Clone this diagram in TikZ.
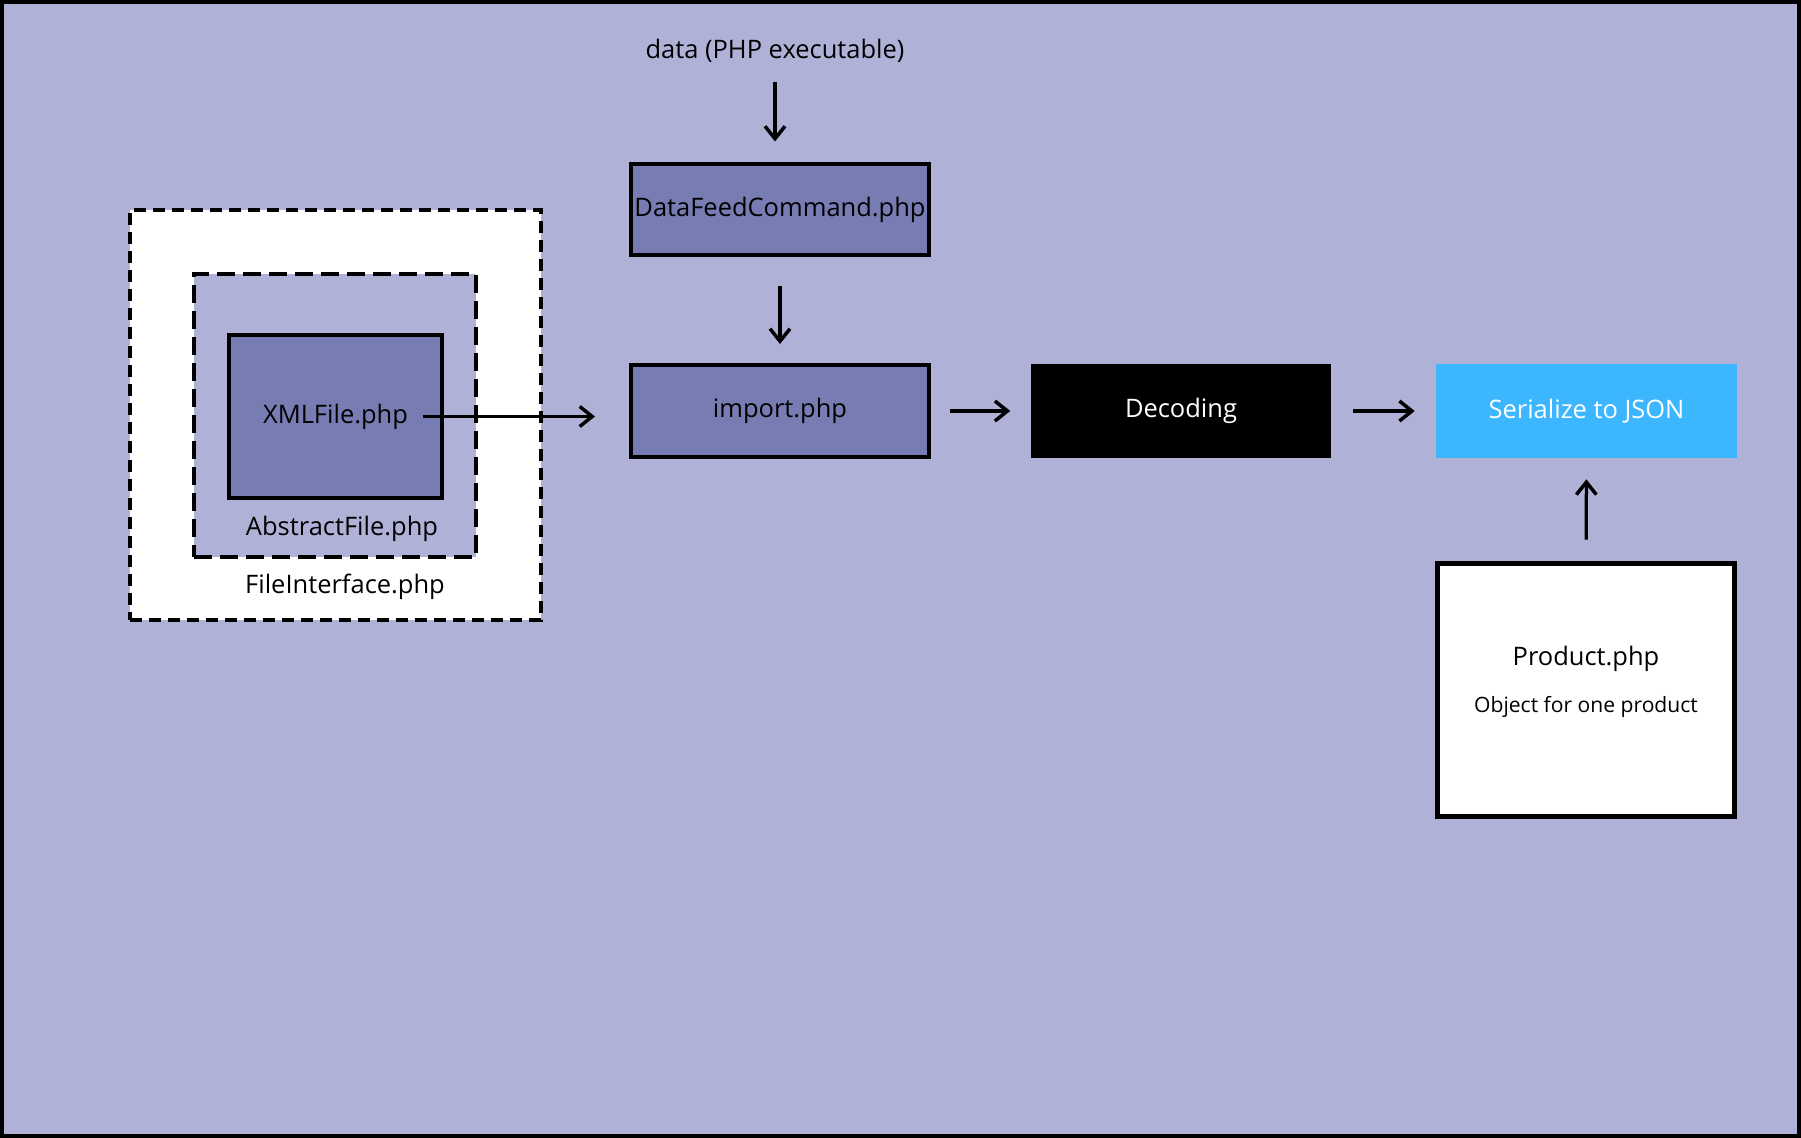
\documentclass[tikz,border=0pt]{standalone}
\usepackage{fontspec}
\setmainfont{Open Sans}
\usetikzlibrary{arrows.meta,positioning}
\definecolor{bgblue}{HTML}{AFB2D6}
\definecolor{phpblue}{HTML}{777CB3}
\definecolor{jsonblue}{HTML}{3BB6FF}

\begin{document}
\begin{tikzpicture} [x=0.02cm,y=-0.02cm,font=\fontsize{14.5pt}{17pt}\selectfont,
    phpbox/.style={draw,line width=0.08cm,fill=phpblue,minimum width=5.96cm,minimum height=1.84cm,inner sep=0pt},
    stagebox/.style={minimum width=6.02cm,minimum height=1.88cm,inner sep=0pt,text=white},
    flow/.style={line width=0.065cm,-{Straight Barb[length=0.25cm,width=0.4cm,line width=0.07cm]}},
    txt/.style={inner sep=0pt}]
    \useasboundingbox (0,0) rectangle (1801,1138);
    \fill[bgblue] (0,0) rectangle (1801,1138);
    \draw[line width=0.08cm] (2,2) rectangle (1799,1136);

    \node[draw,fill=white,line width=0.08cm,dash pattern=on 0.24cm off 0.14cm,minimum width=8.22cm,minimum height=8.2cm] (fileif) at (335.5,415) {};
    \node[draw,fill=bgblue,line width=0.08cm,dash pattern=on 0.36cm off 0.16cm,minimum width=5.64cm,minimum height=5.66cm] (abstract) at (335,415.5) {};
    \node[phpbox,minimum width=4.26cm,minimum height=3.26cm] (xml) at (335.5,416.5) {XMLFile.php};
    \node[txt] (abstractlbl) at (342,529) {AbstractFile.php};
    \node[txt] (fileiflbl) at (345,587) {FileInterface.php};

    \node[txt] (data) at (775,51) {data (PHP executable)};
    \node[phpbox] (feed) at (780,209.5) {DataFeedCommand.php};
    \node[phpbox] (imp) at (780,411) {import.php};
    \node[stagebox,fill=black] (dec) at (1181,411) {Decoding};
    \node[stagebox,fill=jsonblue] (json) at (1586.5,411) {Serialize to JSON};
    \node[draw,fill=white,line width=0.1cm,minimum width=5.96cm,minimum height=5.08cm] (prod) at (1586,690) {};
    \node[txt] (prodname) at (1586,659) {Product.php};
    \node[txt,font=\fontsize{12pt}{14pt}\selectfont] (prodnote) at (1586,707) {Object for one product};

    \draw[flow,shorten <=0.62cm,shorten >=0.4cm] (data.center) -- (data.center |- feed.north);
    \draw[flow,shorten <=0.58cm,shorten >=0.38cm] (feed.south) -- (imp.north);
    \draw[flow,shorten <=1.76cm,shorten >=0.68cm] (xml.center) -- (xml.center -| imp.west);
    \draw[flow,shorten <=0.38cm,shorten >=0.4cm] (imp) -- (dec);
    \draw[flow,shorten <=0.42cm,shorten >=0.42cm] (dec) -- (json);
    \draw[flow,shorten <=0.42cm,shorten >=0.42cm] (prod) -- (json);
\end{tikzpicture}
\end{document}
